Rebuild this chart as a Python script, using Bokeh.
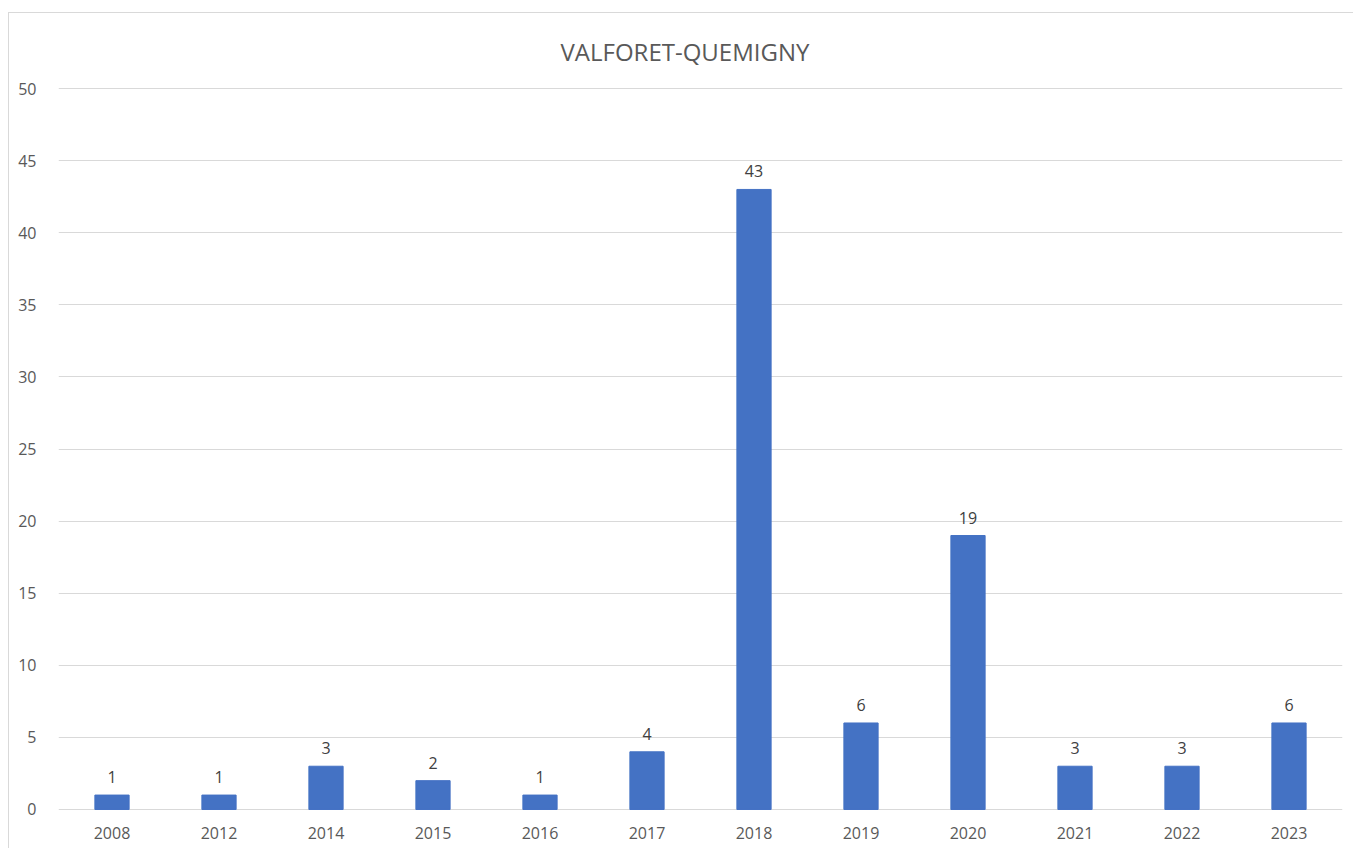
from bokeh.plotting import figure
from bokeh.models import FixedTicker, ColumnDataSource
from bokeh.core.properties import value
from bokeh.embed import file_html
from bokeh.resources import INLINE

years = ["2008", "2012", "2014", "2015", "2016", "2017", "2018", "2019", "2020", "2021", "2022", "2023"]
counts = [1, 1, 3, 2, 1, 4, 43, 6, 19, 3, 3, 6]
y_ticks = [0, 5, 10, 15, 20, 25, 30, 35, 40, 45, 50]
title_text = "VALFORET-QUEMIGNY"

FONT = "Open Sans"
GRAY = "#595959"

src = ColumnDataSource(dict(x=years, top=counts, lab=[str(c) for c in counts]))

p = figure(x_range=years, y_range=(-0.07, 50.07), width=1345, height=836,
           output_backend="svg", toolbar_location=None,
           min_border_left=49, min_border_right=12, min_border_top=74, min_border_bottom=39)
p.margin = (12, 0, 0, 8)
p.styles = {"border-left": "1px solid #d9d9d9", "border-top": "1px solid #d9d9d9"}
p.outline_line_color = None
p.background_fill_color = "white"
p.border_fill_color = "white"

p.title.text = title_text
p.title.align = "left"
p.title.offset = 502
p.title.text_font = FONT
p.title.text_font_size = "24px"
p.title.text_font_style = "normal"
p.title.text_color = GRAY
p.title.vertical_align = "top"
p.title.standoff = 36

p.vbar(x="x", top="top", width=0.32, source=src, color="#4472C4")
p.text(x="x", y="top", text="lab", source=src, text_align="center", text_baseline="bottom",
       y_offset=-12, text_font_size="16px", text_color="#404040", text_font=value(FONT))

p.xgrid.grid_line_color = None
p.ygrid.grid_line_color = "#d9d9d9"
p.ygrid.grid_line_width = 1
p.yaxis.ticker = FixedTicker(ticks=y_ticks)

for ax in (p.xaxis, p.yaxis):
    ax.axis_line_color = None
    ax.major_tick_line_color = None
    ax.minor_tick_line_color = None
    ax.major_label_text_font = FONT
    ax.major_label_text_font_size = "16px"
    ax.major_label_text_color = GRAY
p.yaxis.major_label_standoff = 16
p.xaxis.major_label_standoff = 10

open("out.html", "w").write(file_html(p, INLINE))
